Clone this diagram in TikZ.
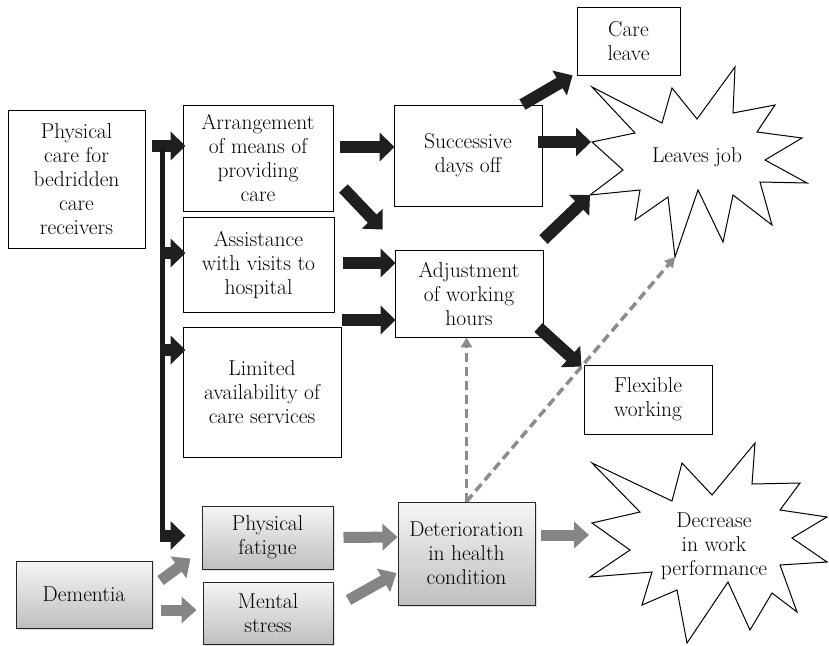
\documentclass[tikz,border=0pt]{standalone}
\usetikzlibrary{arrows.meta,calc,shadows}
\begin{document}
\begin{tikzpicture}[x=1pt,y=-1pt,
 txt/.style={font=\fontsize{21.5}{24}\selectfont, align=center},
 box/.style={txt, draw=black, line width=0.9pt, fill=white, inner sep=0pt},
 gbox/.style={txt, draw=black!85, line width=1pt, inner sep=0pt, top color=gray!8, bottom color=gray!50, drop shadow={shadow xshift=1.5pt, shadow yshift=-1.5pt, fill=gray!50}},
 blk/.style={line width=12pt, draw=black!88, -{Triangle[length=15pt,width=28pt]}},
 gar/.style={line width=11pt, draw=black!48, -{Triangle[length=15pt,width=26pt]}},
 dsh/.style={line width=3.5pt, draw=black!45, dash pattern=on 9pt off 5pt, -{Triangle[length=10pt,width=11pt]}},
 burst/.style={draw=black, line width=1pt, fill=white, line join=miter}]
\useasboundingbox (0,0) rectangle (829,645);

% starbursts
\coordinate (ljW) at (592,142);
\coordinate (ljSW) at (590,195);
\coordinate (ljS) at (675,257);
\coordinate (dcW) at (592,523);
\draw[burst] (592,87) -- (662,123) -- (672,88) -- (697,119) -- (735,67) -- (733,113) -- (775,105) -- (757,132) -- (802,138) -- (765,160) -- (807,183) -- (760,182) -- (772,225) -- (733,195) -- (723,242) -- (698,190) -- (ljS) -- (668,197) -- (635,220) -- (640,190) -- (ljSW) -- (623,170) -- (ljW) -- (635,133) -- cycle;
\draw[burst] (592,463) -- (672,501) -- (682,463) -- (712,495) -- (755,443) -- (752,484) -- (800,483) -- (780,510) -- (827,517) -- (792,538) -- (827,562) -- (780,565) -- (797,612) -- (772,593) -- (750,630) -- (728,582) -- (687,643) -- (677,590) -- (642,605) -- (652,572) -- (590,577) -- (630,550) -- (dcW) -- (640,512) -- cycle;
\node[txt] (leaves) at (697,157) {Leaves job};
\node[txt] (decrease) at (714,546) {Decrease\\in work\\performance};

% boxes
\node[box, minimum width=137pt, minimum height=138pt] (phys) at (76.5,179) {Physical\\care for\\bedridden\\care\\receivers};
\node[box, minimum width=150pt, minimum height=106pt] (arr) at (258,158) {Arrangement\\of means of\\providing\\care};
\node[box, minimum width=151pt, minimum height=95pt] (assist) at (258.5,264.5) {Assistance\\with visits to\\hospital};
\node[box, minimum width=158pt, minimum height=130pt] (limited) at (262,392) {Limited\\availability of\\care services};
\node[box, minimum width=148pt, minimum height=101pt] (succ) at (468,155.5) {Successive\\days off};
\node[box, minimum width=103pt, minimum height=68pt] (care) at (628.5,41) {Care\\leave};
\node[box, minimum width=148pt, minimum height=87pt] (adj) at (469,293.5) {Adjustment\\of working\\hours};
\node[box, minimum width=128pt, minimum height=69pt] (flex) at (648,399.5) {Flexible\\working};
\node[gbox, minimum width=137pt, minimum height=103pt] (det) at (466.5,553.5) {Deterioration\\in health\\condition};
\node[gbox, minimum width=131pt, minimum height=63pt] (fatigue) at (267.5,537.5) {Physical\\fatigue};
\node[gbox, minimum width=130pt, minimum height=62pt] (stress) at (268,613) {Mental\\stress};
\node[gbox, minimum width=136pt, minimum height=67pt] (dementia) at (84,594.5) {Dementia};

% black arrows
\coordinate (trunk) at ($(phys.east)+(17,-33)$);
\draw[blk] ($(phys.east)+(7,-33)$) -- ($(arr.west)+(3,-12)$);
\draw[line width=4.5pt, black!90] (trunk) -- ($(trunk |- fatigue.west)+(0,4)$);
\draw[blk] ($(trunk |- assist.west)+(-2,-11.5)$) -- ($(assist.west)+(3,-11.5)$);
\draw[blk] ($(trunk |- limited.west)+(-2,-42)$) -- ($(limited.west)+(3,-42)$);
\draw[blk] ($(trunk |- fatigue.west)+(-2,-2)$) -- ($(fatigue.west)+(-16,-2)$);
\draw[blk] ($(arr.east)+(7,-11)$) -- ($(succ.west)+(1,-8.5)$);
\draw[blk] ($(arr.south east)+(10,-23)$) -- ($(adj.north west)+(-12,-20)$);
\draw[blk] ($(assist.east)+(9,-1.5)$) -- ($(adj.west)+(1,-30.5)$);
\draw[blk] ($(limited.east)+(1,-72)$) -- ($(adj.west)+(1,26.5)$);
\draw[blk] ($(succ.north east)+(-20,0)$) -- ($(care.south west)+(-4,0)$);
\draw[blk] ($(succ.east)+(-4,-13.5)$) -- ($(ljW)+(-1,0)$);
\draw[blk] ($(adj.north east)+(0,-10)$) -- (ljSW);
\draw[blk] ($(adj.south east)+(-5,-10)$) -- ($(flex.north west)+(-2,2)$);

% gray arrows
\draw[gar] ($(dementia.north east)+(8,20)$) -- ($(fatigue.south west)+(-11,-11)$);
\draw[gar] ($(dementia.east)+(8,15.5)$) -- ($(stress.west)+(-6,-3)$);
\draw[gar] ($(fatigue.east)+(10,0)$) -- ($(det.west)+(0,-16.5)$);
\draw[gar] ($(stress.east)+(15,-13)$) -- ($(det.west)+(-1,19.5)$);
\draw[gar] ($(det.east)+(5,-18.5)$) -- ($(dcW)+(-3,12)$);

% dashed
\draw[dsh] (det.north) -- (det.north |- adj.south);
\draw[dsh] (det.north) -- (ljS);
\end{tikzpicture}
\end{document}
